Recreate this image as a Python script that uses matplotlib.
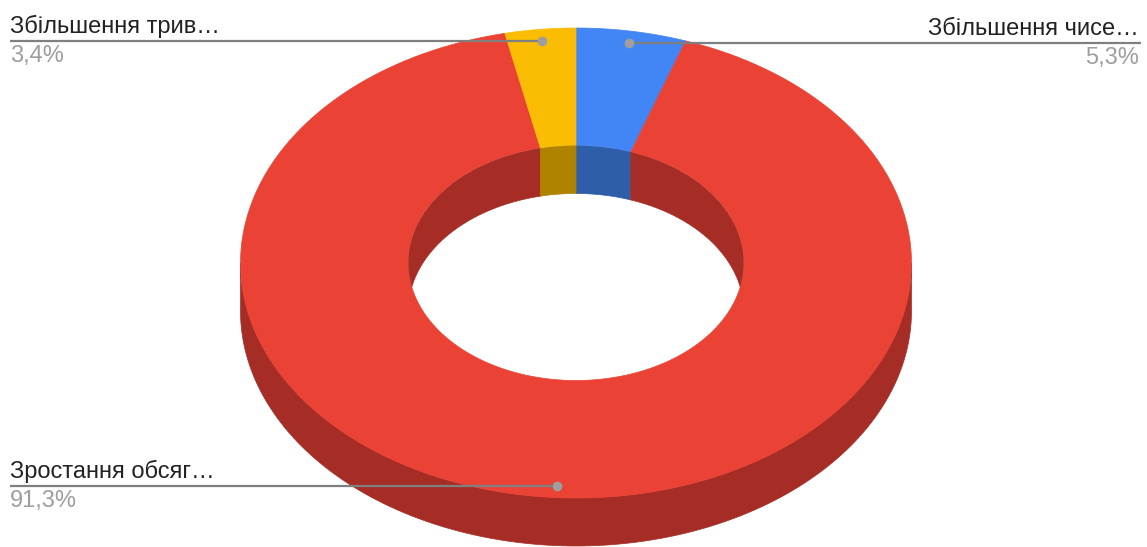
import numpy as np
import matplotlib.pyplot as plt
from matplotlib.patches import Polygon, Ellipse

# дані діаграми
labels = ['Збільшення чисе…', 'Зростання обсяг…', 'Збільшення трив…']
values = [5.3, 91.3, 3.4]
colors = ['#4285F4', '#EA4335', '#FBBC04']
side_colors = ['#2E5EAA', '#A52D25', '#AF8300']

# геометрія "3D" бублика у пікселях
cx, cy = 576, 263
rx, ry = 335.5, 235
hole = 0.5
depth = 48


def arc(t1, t2, sx, sy, dy=0, n=200):
    t = np.radians(np.linspace(t1, t2, n))
    return np.column_stack([cx + sx * np.sin(t), cy - sy * np.cos(t) + dy])


def clip(a, b, lo, hi):
    s, e = max(a, lo), min(b, hi)
    return (s, e) if e > s else None


fig = plt.figure(figsize=(11.47, 5.47), dpi=100)
ax = fig.add_axes([0, 0, 1, 1])
ax.set_xlim(0, 1147)
ax.set_ylim(547, 0)
ax.axis('off')

total = sum(values)
bounds = np.concatenate([[0], np.cumsum(values) / total * 360])

irx, iry = rx * hole, ry * hole
inner_clip = Ellipse((cx, cy), 2 * irx, 2 * iry, transform=ax.transData,
                     facecolor='none', edgecolor='none')
ax.add_patch(inner_clip)

for i in range(len(values)):
    a, b = bounds[i], bounds[i + 1]
    # зовнішня бокова стінка (передня половина)
    seg = clip(a, b, 90, 270)
    if seg:
        pts = np.vstack([arc(seg[0], seg[1], rx, ry),
                         arc(seg[1], seg[0], rx, ry, depth)])
        ax.add_patch(Polygon(pts, closed=True, facecolor=side_colors[i],
                             edgecolor=side_colors[i], lw=0.5, zorder=1))
    # верхня грань
    pts = np.vstack([arc(a, b, rx, ry), arc(b, a, irx, iry)])
    ax.add_patch(Polygon(pts, closed=True, facecolor=colors[i],
                         edgecolor=colors[i], lw=0.5, zorder=2))
    # внутрішня стінка (задня половина отвору)
    for lo, hi in [(0, 90), (270, 360)]:
        seg = clip(a, b, lo, hi)
        if seg:
            pts = np.vstack([arc(seg[0], seg[1], irx, iry),
                             arc(seg[1], seg[0], irx, iry, depth)])
            p = Polygon(pts, closed=True, facecolor=side_colors[i],
                        edgecolor=side_colors[i], lw=0.5, zorder=3)
            ax.add_patch(p)
            p.set_clip_path(inner_clip)

# підписи з виносками
for i in range(len(values)):
    mid = (bounds[i] + bounds[i + 1]) / 2
    t = np.radians(mid)
    px = cx + 0.95 * rx * np.sin(t)
    py = cy - 0.95 * ry * np.cos(t)
    right = px > cx
    if right:
        x0, x1, tx, ha = px, 1141, 1139, 'right'
    else:
        x0, x1, tx, ha = 10, px, 10, 'left'
    ax.plot([x0, x1], [py, py], color='#7f7f7f', lw=1.6, zorder=5,
            solid_capstyle='butt')
    ax.plot(px, py, 'o', ms=7, color='#9e9e9e', mec='none', zorder=6)
    ax.text(tx, py - 8, labels[i], ha=ha, va='baseline', fontsize=17,
            color='#222222', family='Liberation Sans', zorder=7)
    pct = f'{values[i]:.1f}'.replace('.', ',') + '%'
    ax.text(tx, py + 21, pct, ha=ha, va='baseline', fontsize=17,
            color='#9e9e9e', family='Liberation Sans', zorder=7)

fig.savefig('out.png', dpi=100)
